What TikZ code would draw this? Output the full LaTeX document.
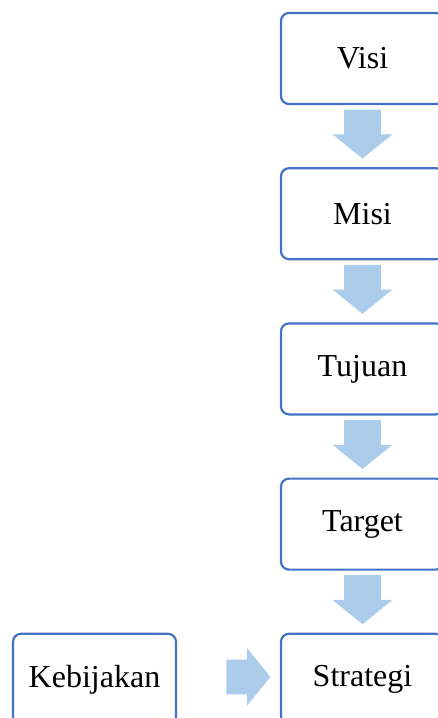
\documentclass[tikz,border=0pt]{standalone}
\usepackage{fontspec}
\setmainfont{Liberation Serif}
\usetikzlibrary{positioning,calc,shapes.arrows}
\definecolor{boxblue}{RGB}{68,114,196}
\definecolor{arrblue}{RGB}{171,204,234}

\begin{document}
\begin{tikzpicture}[
  font=\fontsize{16}{18}\selectfont,
  node distance=31pt,
  stage/.style={rectangle, rounded corners=4pt, draw=boxblue, line width=1.1pt,
                fill=white, minimum width=81.5pt, minimum height=45.5pt,
                inner sep=0pt, align=center},
  fatarr/.style={single arrow, draw=none, fill=arrblue, inner xsep=0pt,
                 inner ysep=9pt, single arrow head extend=5.75pt,
                 single arrow tip angle=102, minimum height=24.5pt},
]
% --- frame (right and bottom boxes run off the page) ---
\useasboundingbox (0,0) rectangle (219pt,-359pt);
\clip (0,0) rectangle (219pt,-359pt);
% --- main column ---
\node[stage] (visi) at (181.25pt,-29.25pt) {Visi};
\node[stage, below=of visi] (misi) {Misi};
\node[stage, below=of misi] (tujuan) {Tujuan};
\node[stage, below=of tujuan] (target) {Target};
\node[stage, below=of target] (strategi) {Strategi};
% --- side input ---
\node[stage, left=51.4pt of strategi] (kebijakan) {Kebijakan};
% --- flow ---
\node[fatarr, rotate=-90, anchor=tip] (a1) at ($(misi.north)+(0,4pt)$) {};
\node[fatarr, rotate=-90, anchor=tip] (a2) at ($(tujuan.north)+(0,4pt)$) {};
\node[fatarr, rotate=-90, anchor=tip] (a3) at ($(target.north)+(0,4pt)$) {};
\node[fatarr, rotate=-90, anchor=tip] (a4) at ($(strategi.north)+(0,4pt)$) {};
\node[fatarr, minimum height=22pt, inner ysep=8.5pt, anchor=tip] (a5)
  at ($(strategi.west)+(-4.5pt,1.2pt)$) {};
\end{tikzpicture}
\end{document}
